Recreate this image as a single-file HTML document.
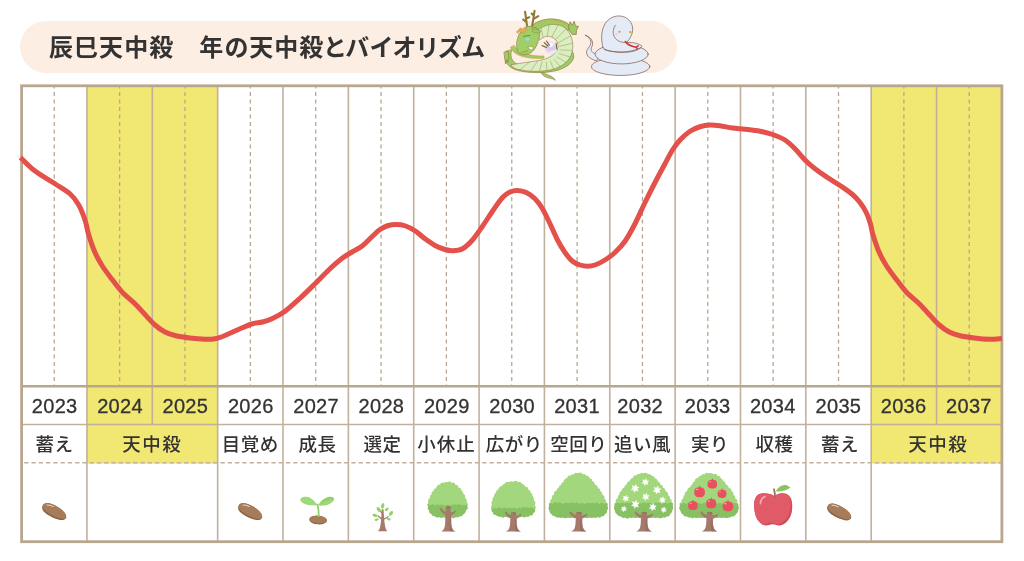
<!DOCTYPE html>
<html lang="ja"><head><meta charset="utf-8"><title>辰巳天中殺 年の天中殺とバイオリズム</title>
<style>html,body{margin:0;padding:0;background:#fff}body{width:1024px;height:561px;overflow:hidden;position:relative}svg{display:block;position:absolute;left:0;top:0}text{font-family:"Liberation Sans","Noto Sans CJK JP",sans-serif;fill:#333333}.ttl{font-size:24px;font-weight:700;letter-spacing:1.06px;font-feature-settings:"palt" 1}.yr{font-size:20px;letter-spacing:.3px;text-anchor:middle;stroke:#333333;stroke-width:.3px}.lb{font-size:18.5px;font-weight:500;letter-spacing:.5px;text-anchor:middle}</style></head><body>
<svg width="1024" height="561" viewBox="0 0 1024 561">
<rect x="20" y="21" width="657" height="52" rx="26" fill="#fdeee4"/>
<rect x="86.95" y="85.80" width="130.71" height="377.90" fill="#f1e773"/>
<rect x="871.19" y="85.80" width="130.71" height="377.90" fill="#f1e773"/>
<line x1="54.28" y1="85.80" x2="54.28" y2="386.30" stroke="#b8a68f" stroke-width="1.3" stroke-dasharray="4 3.5" stroke-dashoffset="1.3"/>
<line x1="119.63" y1="85.80" x2="119.63" y2="386.30" stroke="#b8a68f" stroke-width="1.3" stroke-dasharray="4 3.5" stroke-dashoffset="1.3"/>
<line x1="184.98" y1="85.80" x2="184.98" y2="386.30" stroke="#b8a68f" stroke-width="1.3" stroke-dasharray="4 3.5" stroke-dashoffset="1.3"/>
<line x1="250.34" y1="85.80" x2="250.34" y2="386.30" stroke="#b8a68f" stroke-width="1.3" stroke-dasharray="4 3.5" stroke-dashoffset="1.3"/>
<line x1="315.69" y1="85.80" x2="315.69" y2="386.30" stroke="#b8a68f" stroke-width="1.3" stroke-dasharray="4 3.5" stroke-dashoffset="1.3"/>
<line x1="381.04" y1="85.80" x2="381.04" y2="386.30" stroke="#b8a68f" stroke-width="1.3" stroke-dasharray="4 3.5" stroke-dashoffset="1.3"/>
<line x1="446.39" y1="85.80" x2="446.39" y2="386.30" stroke="#b8a68f" stroke-width="1.3" stroke-dasharray="4 3.5" stroke-dashoffset="1.3"/>
<line x1="511.75" y1="85.80" x2="511.75" y2="386.30" stroke="#b8a68f" stroke-width="1.3" stroke-dasharray="4 3.5" stroke-dashoffset="1.3"/>
<line x1="577.10" y1="85.80" x2="577.10" y2="386.30" stroke="#b8a68f" stroke-width="1.3" stroke-dasharray="4 3.5" stroke-dashoffset="1.3"/>
<line x1="642.45" y1="85.80" x2="642.45" y2="386.30" stroke="#b8a68f" stroke-width="1.3" stroke-dasharray="4 3.5" stroke-dashoffset="1.3"/>
<line x1="707.81" y1="85.80" x2="707.81" y2="386.30" stroke="#b8a68f" stroke-width="1.3" stroke-dasharray="4 3.5" stroke-dashoffset="1.3"/>
<line x1="773.16" y1="85.80" x2="773.16" y2="386.30" stroke="#b8a68f" stroke-width="1.3" stroke-dasharray="4 3.5" stroke-dashoffset="1.3"/>
<line x1="838.51" y1="85.80" x2="838.51" y2="386.30" stroke="#b8a68f" stroke-width="1.3" stroke-dasharray="4 3.5" stroke-dashoffset="1.3"/>
<line x1="903.87" y1="85.80" x2="903.87" y2="386.30" stroke="#b8a68f" stroke-width="1.3" stroke-dasharray="4 3.5" stroke-dashoffset="1.3"/>
<line x1="969.22" y1="85.80" x2="969.22" y2="386.30" stroke="#b8a68f" stroke-width="1.3" stroke-dasharray="4 3.5" stroke-dashoffset="1.3"/>
<line x1="86.95" y1="85.80" x2="86.95" y2="541.70" stroke="#c1b19c" stroke-width="1.6"/>
<line x1="152.31" y1="85.80" x2="152.31" y2="424.45" stroke="#c1b19c" stroke-width="1.6"/>
<line x1="217.66" y1="85.80" x2="217.66" y2="541.70" stroke="#c1b19c" stroke-width="1.6"/>
<line x1="283.01" y1="85.80" x2="283.01" y2="541.70" stroke="#c1b19c" stroke-width="1.6"/>
<line x1="348.37" y1="85.80" x2="348.37" y2="541.70" stroke="#c1b19c" stroke-width="1.6"/>
<line x1="413.72" y1="85.80" x2="413.72" y2="541.70" stroke="#c1b19c" stroke-width="1.6"/>
<line x1="479.07" y1="85.80" x2="479.07" y2="541.70" stroke="#c1b19c" stroke-width="1.6"/>
<line x1="544.42" y1="85.80" x2="544.42" y2="541.70" stroke="#c1b19c" stroke-width="1.6"/>
<line x1="609.78" y1="85.80" x2="609.78" y2="541.70" stroke="#c1b19c" stroke-width="1.6"/>
<line x1="675.13" y1="85.80" x2="675.13" y2="541.70" stroke="#c1b19c" stroke-width="1.6"/>
<line x1="740.48" y1="85.80" x2="740.48" y2="541.70" stroke="#c1b19c" stroke-width="1.6"/>
<line x1="805.84" y1="85.80" x2="805.84" y2="541.70" stroke="#c1b19c" stroke-width="1.6"/>
<line x1="871.19" y1="85.80" x2="871.19" y2="541.70" stroke="#c1b19c" stroke-width="1.6"/>
<line x1="936.54" y1="85.80" x2="936.54" y2="424.45" stroke="#c1b19c" stroke-width="1.6"/>
<line x1="21.60" y1="386.30" x2="1001.89" y2="386.30" stroke="#b8a68f" stroke-width="2.5"/>
<line x1="21.60" y1="424.45" x2="1001.89" y2="424.45" stroke="#c1b19c" stroke-width="1.4"/>
<line x1="21.60" y1="462.85" x2="1001.89" y2="462.85" stroke="#c1b19c" stroke-width="1.5" stroke-dasharray="4.3 2.97" stroke-dashoffset="4.67"/>
<rect x="21.60" y="85.80" width="980.29" height="455.90" fill="none" stroke="#b8a68f" stroke-width="2.8"/>
<path d="M20.50 157.50 C20.75 157.75 19.58 156.75 22.00 159.00 C24.42 161.25 29.50 166.88 35.00 171.00 C40.50 175.12 49.17 179.96 55.00 183.75 C60.83 187.54 66.04 190.21 70.00 193.75 C73.96 197.29 76.25 200.62 78.75 205.00 C81.25 209.38 83.33 215.00 85.00 220.00 C86.67 225.00 87.08 229.58 88.75 235.00 C90.42 240.42 92.71 247.29 95.00 252.50 C97.29 257.71 99.58 261.67 102.50 266.25 C105.42 270.83 109.17 275.62 112.50 280.00 C115.83 284.38 118.75 288.54 122.50 292.50 C126.25 296.46 131.25 300.08 135.00 303.75 C138.75 307.42 141.67 310.96 145.00 314.50 C148.33 318.04 151.67 322.08 155.00 325.00 C158.33 327.92 161.67 330.25 165.00 332.00 C168.33 333.75 170.83 334.50 175.00 335.50 C179.17 336.50 185.00 337.38 190.00 338.00 C195.00 338.62 200.83 339.12 205.00 339.25 C209.17 339.38 211.67 339.38 215.00 338.75 C218.33 338.12 220.83 337.17 225.00 335.50 C229.17 333.83 235.42 330.71 240.00 328.75 C244.58 326.79 248.75 324.88 252.50 323.75 C256.25 322.62 259.17 322.88 262.50 322.00 C265.83 321.12 268.75 320.29 272.50 318.50 C276.25 316.71 280.42 314.62 285.00 311.25 C289.58 307.88 295.00 302.83 300.00 298.25 C305.00 293.67 310.00 288.67 315.00 283.75 C320.00 278.83 325.42 273.04 330.00 268.75 C334.58 264.46 338.75 260.83 342.50 258.00 C346.25 255.17 349.17 253.79 352.50 251.75 C355.83 249.71 359.17 248.33 362.50 245.75 C365.83 243.17 369.58 238.96 372.50 236.25 C375.42 233.54 377.50 231.25 380.00 229.50 C382.50 227.75 384.79 226.58 387.50 225.75 C390.21 224.92 393.33 224.50 396.25 224.50 C399.17 224.50 401.88 224.71 405.00 225.75 C408.12 226.79 411.67 228.58 415.00 230.75 C418.33 232.92 421.67 236.29 425.00 238.75 C428.33 241.21 431.67 243.71 435.00 245.50 C438.33 247.29 442.08 248.62 445.00 249.50 C447.92 250.38 449.58 250.88 452.50 250.75 C455.42 250.62 459.17 250.54 462.50 248.75 C465.83 246.96 469.17 243.75 472.50 240.00 C475.83 236.25 479.17 231.04 482.50 226.25 C485.83 221.46 489.17 216.04 492.50 211.25 C495.83 206.46 499.58 200.71 502.50 197.50 C505.42 194.29 507.50 193.17 510.00 192.00 C512.50 190.83 514.79 190.42 517.50 190.50 C520.21 190.58 523.33 191.12 526.25 192.50 C529.17 193.88 532.29 196.04 535.00 198.75 C537.71 201.46 540.00 204.58 542.50 208.75 C545.00 212.92 547.50 218.54 550.00 223.75 C552.50 228.96 555.00 235.21 557.50 240.00 C560.00 244.79 562.50 248.96 565.00 252.50 C567.50 256.04 570.00 259.17 572.50 261.25 C575.00 263.33 577.50 264.17 580.00 265.00 C582.50 265.83 585.00 266.25 587.50 266.25 C590.00 266.25 592.08 266.04 595.00 265.00 C597.92 263.96 601.67 262.08 605.00 260.00 C608.33 257.92 611.67 255.62 615.00 252.50 C618.33 249.38 621.67 246.04 625.00 241.25 C628.33 236.46 631.67 230.21 635.00 223.75 C638.33 217.29 641.67 209.38 645.00 202.50 C648.33 195.62 651.67 188.96 655.00 182.50 C658.33 176.04 662.08 169.17 665.00 163.75 C667.92 158.33 670.00 153.96 672.50 150.00 C675.00 146.04 677.08 143.12 680.00 140.00 C682.92 136.88 686.67 133.46 690.00 131.25 C693.33 129.04 696.67 127.79 700.00 126.75 C703.33 125.71 706.67 125.17 710.00 125.00 C713.33 124.83 716.25 125.25 720.00 125.75 C723.75 126.25 728.33 127.42 732.50 128.00 C736.67 128.58 740.42 128.71 745.00 129.25 C749.58 129.79 755.42 130.38 760.00 131.25 C764.58 132.12 768.33 133.04 772.50 134.50 C776.67 135.96 781.25 137.62 785.00 140.00 C788.75 142.38 791.67 145.42 795.00 148.75 C798.33 152.08 801.67 156.67 805.00 160.00 C808.33 163.33 811.25 165.83 815.00 168.75 C818.75 171.67 823.33 174.71 827.50 177.50 C831.67 180.29 835.83 182.67 840.00 185.50 C844.17 188.33 849.17 191.67 852.50 194.50 C855.83 197.33 857.71 199.50 860.00 202.50 C862.29 205.50 864.50 208.92 866.25 212.50 C868.00 216.08 869.38 220.25 870.50 224.00 C871.62 227.75 871.54 230.25 873.00 235.00 C874.46 239.75 876.96 247.29 879.25 252.50 C881.54 257.71 883.83 261.67 886.75 266.25 C889.67 270.83 893.42 275.62 896.75 280.00 C900.08 284.38 903.00 288.54 906.75 292.50 C910.50 296.46 915.50 300.08 919.25 303.75 C923.00 307.42 925.92 310.96 929.25 314.50 C932.58 318.04 935.92 322.08 939.25 325.00 C942.58 327.92 945.92 330.25 949.25 332.00 C952.58 333.75 955.08 334.50 959.25 335.50 C963.42 336.50 969.25 337.38 974.25 338.00 C979.25 338.62 984.62 339.17 989.25 339.25 C993.88 339.33 999.88 338.62 1002.00 338.50" fill="none" stroke="#e4504a" stroke-width="5" stroke-linecap="butt" stroke-linejoin="round"/>
<text class="ttl" x="49" y="55.5">辰巳天中殺　年の天中殺とバイオリズム</text>
<text class="yr" x="54.68" y="412.8">2023</text>
<text class="yr" x="120.03" y="412.8">2024</text>
<text class="yr" x="185.38" y="412.8">2025</text>
<text class="yr" x="250.74" y="412.8">2026</text>
<text class="yr" x="316.09" y="412.8">2027</text>
<text class="yr" x="381.44" y="412.8">2028</text>
<text class="yr" x="446.79" y="412.8">2029</text>
<text class="yr" x="512.15" y="412.8">2030</text>
<text class="yr" x="577.00" y="412.8">2031</text>
<text class="yr" x="640.15" y="412.8">2032</text>
<text class="yr" x="707.71" y="412.8">2033</text>
<text class="yr" x="772.76" y="412.8">2034</text>
<text class="yr" x="838.41" y="412.8">2035</text>
<text class="yr" x="903.57" y="412.8">2036</text>
<text class="yr" x="968.92" y="412.8">2037</text>
<text class="lb" x="54.58" y="451">蓄え</text>
<text class="lb" x="250.34" y="451">目覚め</text>
<text class="lb" x="317.44" y="451">成長</text>
<text class="lb" x="382.44" y="451">選定</text>
<text class="lb" x="446.39" y="451" style="letter-spacing:1px">小休止</text>
<text class="lb" x="514.25" y="451">広がり</text>
<text class="lb" x="578.70" y="451">空回り</text>
<text class="lb" x="642.45" y="451">追い風</text>
<text class="lb" x="710.01" y="451">実り</text>
<text class="lb" x="774.41" y="451">収穫</text>
<text class="lb" x="840.01" y="451">蓄え</text>
<text class="lb" x="152.31" y="451" style="letter-spacing:1.5px">天中殺</text>
<text class="lb" x="938.14" y="451" style="letter-spacing:1.5px">天中殺</text>
<g transform="translate(500,8) scale(0.13193)" stroke-linejoin="round" stroke-linecap="round">
<path d="M318 462 C330 520 385 490 420 548 C395 530 365 535 340 520 C315 505 305 485 318 462Z" fill="#9ecb63" stroke="#8a6a35" stroke-width="4"/>
<path d="M42 330 C25 400 55 450 130 472 C220 498 390 498 475 458 C545 425 580 375 548 330 L515 350 C525 390 480 420 400 440 C300 460 180 450 120 420 C82 395 78 360 88 318 Z" fill="#9ecb63" stroke="#8a6a35" stroke-width="4"/>
<path d="M80 300 C95 355 200 392 332 380 L334 364 C240 370 135 338 108 285Z" fill="#9ecb63" stroke="#c9a24a" stroke-width="5"/>
<path d="M248 130 C300 78 425 62 505 112 C525 125 535 142 540 158 L505 175 C470 125 380 112 288 168 Z" fill="#9ecb63" stroke="#8a6a35" stroke-width="4"/>
<path d="M262 118 C320 80 425 76 505 122" fill="none" stroke="#c9a24a" stroke-width="6"/>
<clipPath id="dbc"><path d="M286 168 C330 128 425 102 492 150 C540 190 558 258 550 315 C542 386 492 434 412 462 C340 484 220 488 130 464 C105 456 92 446 84 430 C150 420 225 408 295 398 C365 386 422 355 438 305 C447 265 425 228 378 216 C348 210 322 222 302 242 Z"/></clipPath>
<path d="M286 168 C330 128 425 102 492 150 C540 190 558 258 550 315 C542 386 492 434 412 462 C340 484 220 488 130 464 C105 456 92 446 84 430 C150 420 225 408 295 398 C365 386 422 355 438 305 C447 265 425 228 378 216 C348 210 322 222 302 242 Z" fill="#d9efbf" stroke="#8a6a35" stroke-width="4"/>
<path d="M326 221 L293 59 M358 221 L381 57 M389 228 L467 77 M417 243 L541 119 M438 265 L599 177 M451 290 L634 248 M454 318 L644 324 M448 346 L628 400 M433 371 L587 468 M411 391 L525 523 M382 404 L447 559 M351 410 L361 575 M319 407 L273 567 M289 396 L191 538 M264 379 L123 489 M246 355 L74 425 M237 328 L49 351" stroke="#8a6a35" stroke-width="3.4" fill="none" clip-path="url(#dbc)" opacity=".8"/>
<path d="M32 335 L62 328 L68 380 L60 412 L52 392 L42 425 L36 385 Z" fill="#9ecb63" stroke="#8a6a35" stroke-width="4"/>
<path d="M520 135 L532 105 L548 130 L562 100 L572 135 L596 140 L580 168 L578 200 L548 200 L528 175Z" fill="#9ecb63" stroke="#8a6a35" stroke-width="5"/>
<circle cx="385" cy="300" r="52" fill="#ebe8f6"/>
<circle cx="372" cy="308" r="22" fill="#f3bfdc" opacity=".85"/>
<circle cx="402" cy="300" r="22" fill="#c6c9f0" opacity=".85"/>
<circle cx="385" cy="282" r="16" fill="#fff" opacity=".9"/>
<path d="M318 285 L352 300 M335 262 L365 290 M352 250 L375 282 M425 268 L432 312" stroke="#6d5a2a" stroke-width="8" fill="none"/>
<path d="M205 135 L190 28 M196 80 L222 70 M200 105 L176 88 M245 130 L262 22 M252 85 L290 62 M256 60 L240 42" stroke="#8f7a32" stroke-width="16" fill="none"/>
<path d="M240 138 C205 130 155 170 138 215 C122 258 120 305 140 338 C155 360 190 356 222 345 C258 330 280 290 292 240 C300 208 306 185 296 170 C282 150 262 146 240 138Z" fill="#a2ce66" stroke="#8a6a35" stroke-width="4"/>
<path d="M125 180 L155 150 L172 160 L190 142 L205 165 L175 190 L150 180 L135 192Z" fill="#e4ad55" stroke="#b98a3a" stroke-width="3"/>
<path d="M245 150 C265 162 300 165 312 176 C295 195 262 192 250 180Z" fill="#9bc95f" stroke="#8a6a35" stroke-width="3"/>
<ellipse cx="208" cy="236" rx="14" ry="12" fill="#7fe6ee"/>
<path d="M178 215 L228 208" stroke="#8a6a35" stroke-width="6"/>
<path d="M215 292 L255 298 L242 318 L220 310Z" fill="#fff" stroke="#8a6a35" stroke-width="3"/>
<path d="M158 340 C180 328 200 335 212 322" stroke="#8a6a35" stroke-width="4" fill="none"/>
</g>
<g transform="translate(570,5) scale(0.14265)" stroke="#7d5a48" stroke-width="5" stroke-linejoin="round" stroke-linecap="round" fill="#e4ebf7">
<path d="M108 212 C150 235 158 268 130 300 C100 335 118 372 185 392 L215 350 C165 345 140 325 150 300 C172 262 150 225 108 212Z"/>
<ellipse cx="355" cy="432" rx="205" ry="62"/>
<ellipse cx="362" cy="345" rx="186" ry="68"/>
<path d="M232 300 C215 240 215 160 262 110 C310 62 390 66 425 120 C452 162 440 215 398 262 C440 262 485 268 505 290 C480 325 400 338 330 330 C280 324 245 318 232 300Z"/>
<path d="M318 142 C292 180 298 228 340 252 C360 262 380 264 398 262" fill="none"/>
<path d="M240 312 C290 335 420 340 495 300" fill="none"/>
<path d="M388 256 C402 280 430 290 462 296 L478 286 M462 296 L470 304" fill="none" stroke="#cf3535" stroke-width="11"/>
<circle cx="347" cy="188" r="8" fill="#c9aa1e" stroke="none"/><circle cx="423" cy="190" r="8" fill="#c9aa1e" stroke="none"/>
<circle cx="325" cy="204" r="8" fill="#f7c6cc" stroke="none"/>
</g>
<g transform="translate(54.38,511.70) rotate(24) scale(1,0.9)">
<clipPath id="sca"><path d="M-13.2 -0.4 C-13.4 -5.8 -7.5 -7.2 -1.5 -6.8 C6.5 -6.2 13.4 -3 13.2 1.4 C13 5.2 7 6.8 0 6.6 C-7.5 6.4 -13 4.4 -13.2 -0.4Z"/></clipPath>
<g clip-path="url(#sca)"><rect x="-15" y="-9" width="30" height="18" fill="#8d6647"/>
<path d="M-13.2 -1.6 C-13.2 -6.6 -7 -8 -1 -7.6 C7 -7 13.4 -3.6 13.2 0.2 C13 4 6 5.2 -1 4.6 C-8 4 -13.2 2.6 -13.2 -1.6Z" fill="#a67c5a"/>
</g>
<path d="M-9.6 -3.4 C-7.6 -4.8 -5 -5 -3 -4.7" fill="none" stroke="#e9d8c8" stroke-width="1" stroke-linecap="round"/>
</g>
<g transform="translate(250.34,511.80) rotate(24) scale(1,0.9)">
<clipPath id="scb"><path d="M-13.2 -0.4 C-13.4 -5.8 -7.5 -7.2 -1.5 -6.8 C6.5 -6.2 13.4 -3 13.2 1.4 C13 5.2 7 6.8 0 6.6 C-7.5 6.4 -13 4.4 -13.2 -0.4Z"/></clipPath>
<g clip-path="url(#scb)"><rect x="-15" y="-9" width="30" height="18" fill="#8d6647"/>
<path d="M-13.2 -1.6 C-13.2 -6.6 -7 -8 -1 -7.6 C7 -7 13.4 -3.6 13.2 0.2 C13 4 6 5.2 -1 4.6 C-8 4 -13.2 2.6 -13.2 -1.6Z" fill="#a67c5a"/>
</g>
<path d="M-9.6 -3.4 C-7.6 -4.8 -5 -5 -3 -4.7" fill="none" stroke="#e9d8c8" stroke-width="1" stroke-linecap="round"/>
</g>
<g transform="translate(839.31,512.10) rotate(24) scale(1,0.9)">
<clipPath id="scc"><path d="M-13.2 -0.4 C-13.4 -5.8 -7.5 -7.2 -1.5 -6.8 C6.5 -6.2 13.4 -3 13.2 1.4 C13 5.2 7 6.8 0 6.6 C-7.5 6.4 -13 4.4 -13.2 -0.4Z"/></clipPath>
<g clip-path="url(#scc)"><rect x="-15" y="-9" width="30" height="18" fill="#8d6647"/>
<path d="M-13.2 -1.6 C-13.2 -6.6 -7 -8 -1 -7.6 C7 -7 13.4 -3.6 13.2 0.2 C13 4 6 5.2 -1 4.6 C-8 4 -13.2 2.6 -13.2 -1.6Z" fill="#a67c5a"/>
</g>
<path d="M-9.6 -3.4 C-7.6 -4.8 -5 -5 -3 -4.7" fill="none" stroke="#e9d8c8" stroke-width="1" stroke-linecap="round"/>
</g>
<g transform="translate(230.00,490) scale(0.11723)">
<ellipse cx="752" cy="256" rx="76" ry="37" fill="#8d6647" transform="rotate(4 752 256)"/>
<ellipse cx="751" cy="251" rx="74" ry="32" fill="#a67c5a" transform="rotate(4 752 256)"/>
<path d="M747 122 C752 150 758 185 757 222" fill="none" stroke="#8fd168" stroke-width="15" stroke-linecap="round"/>
<path d="M747 131 C722 95 690 58 650 57 C620 56 597 68 600 85 C603 106 640 128 700 131 C720 132 737 132 747 131Z" fill="#9ed977"/>
<path d="M752 129 C772 95 810 60 850 57 C876 55 892 64 888 78 C881 101 842 128 800 131 C780 132 764 132 752 129Z" fill="#93d06b"/>
<path d="M752 129 C790 110 840 80 888 72 C885 100 842 128 800 131 C780 132 764 132 752 129Z" fill="#9ed977"/>
</g>
<g>
<path d="M377.70 531.30 C380.50 530.10 381.10 523.30 381.70 509.30 L383.50 509.30 C384.30 523.30 385.10 530.10 387.70 531.30 Z" fill="#a67a6b"/>
<path d="M381.90 519.30 L378.10 516.10 M383.70 519.30 L388.10 516.70 M382.30 513.30 L379.90 510.30" stroke="#a67a6b" stroke-width="1.3" stroke-linecap="round" fill="none"/>
<ellipse cx="382.73" cy="505.78" rx="2.80" ry="1.60" fill="#8fd468" transform="rotate(-80 382.73 505.78)"/>
<ellipse cx="378.72" cy="509.52" rx="2.80" ry="1.60" fill="#8fd468" transform="rotate(55 378.72 509.52)"/>
<ellipse cx="386.74" cy="509.39" rx="2.10" ry="1.30" fill="#8fd468" transform="rotate(-40 386.74 509.39)"/>
<ellipse cx="391.02" cy="513.40" rx="2.70" ry="1.60" fill="#8fd468" transform="rotate(-50 391.02 513.40)"/>
<ellipse cx="374.97" cy="515.40" rx="2.60" ry="1.50" fill="#8fd468" transform="rotate(15 374.97 515.40)"/>
<ellipse cx="376.71" cy="519.55" rx="2.10" ry="1.20" fill="#8fd468" transform="rotate(-20 376.71 519.55)"/>
<ellipse cx="388.74" cy="519.14" rx="2.10" ry="1.20" fill="#8fd468" transform="rotate(20 388.74 519.14)"/>
</g>
<g>
<clipPath id="tc1"><path d="M447.16 482.31 Q449.76 480.60 451.83 482.93 Q454.57 481.78 455.31 484.66 Q458.38 484.79 458.63 487.85 Q461.76 487.87 461.49 490.99 Q463.73 491.53 463.19 493.78 Q466.01 494.72 464.95 497.50 Q467.45 499.61 466.76 502.80 Q469.17 504.26 466.96 506.02 Q468.73 508.51 466.12 510.09 Q465.61 513.02 463.06 514.52 Q462.22 516.45 460.15 516.09 Q458.07 517.92 455.46 517.00 Q453.66 519.36 451.85 517.00 Q449.61 518.68 447.37 517.00 Q445.67 518.92 443.98 517.00 Q441.46 518.51 438.95 517.00 Q436.31 518.17 434.52 515.90 Q432.13 516.31 431.45 513.98 Q428.93 512.88 429.10 510.13 Q426.85 508.52 428.26 506.13 Q426.47 504.46 428.41 502.96 Q427.10 499.69 430.10 497.86 Q429.11 495.24 431.74 494.29 Q430.71 491.51 433.64 491.09 Q433.23 488.21 436.13 488.28 Q436.52 484.62 440.20 484.42 Q440.96 481.88 443.40 482.92 Q445.07 481.30 447.16 482.31Z"/></clipPath>
<path d="M447.16 482.31 Q449.76 480.60 451.83 482.93 Q454.57 481.78 455.31 484.66 Q458.38 484.79 458.63 487.85 Q461.76 487.87 461.49 490.99 Q463.73 491.53 463.19 493.78 Q466.01 494.72 464.95 497.50 Q467.45 499.61 466.76 502.80 Q469.17 504.26 466.96 506.02 Q468.73 508.51 466.12 510.09 Q465.61 513.02 463.06 514.52 Q462.22 516.45 460.15 516.09 Q458.07 517.92 455.46 517.00 Q453.66 519.36 451.85 517.00 Q449.61 518.68 447.37 517.00 Q445.67 518.92 443.98 517.00 Q441.46 518.51 438.95 517.00 Q436.31 518.17 434.52 515.90 Q432.13 516.31 431.45 513.98 Q428.93 512.88 429.10 510.13 Q426.85 508.52 428.26 506.13 Q426.47 504.46 428.41 502.96 Q427.10 499.69 430.10 497.86 Q429.11 495.24 431.74 494.29 Q430.71 491.51 433.64 491.09 Q433.23 488.21 436.13 488.28 Q436.52 484.62 440.20 484.42 Q440.96 481.88 443.40 482.92 Q445.07 481.30 447.16 482.31Z" fill="#a3d77d"/>
<path d="M425.20 520.00 L425.20 505.30 Q427.81 503.21 430.41 505.41 Q432.47 502.60 434.53 505.75 Q437.26 503.64 439.99 505.33 Q442.23 503.50 444.48 505.93 Q447.72 503.83 450.97 505.80 Q453.62 503.29 456.28 505.00 Q459.04 503.17 461.80 505.56 Q464.54 503.69 467.29 505.67 Q470.51 502.35 473.73 505.46 L473.73 520.00 Z" fill="#87c163" clip-path="url(#tc1)"/>
<path d="M440.45 531.50 C443.80 530.90 444.90 527.50 445.20 522.50 L445.30 514.80 C443.20 514.40 440.60 511.20 439.60 508.60 L441.00 507.50 C442.40 509.80 444.60 511.60 445.70 511.80 L445.80 506.80 L447.40 506.20 L450.40 506.60 L450.80 512.20 C452.80 512.20 454.00 511.70 455.20 510.40 L456.20 511.60 C455.00 513.50 452.40 514.60 451.20 515.60 L451.20 522.50 C451.50 527.50 452.60 530.90 455.95 531.50 Z" fill="#a67a6b"/>
<path d="M451.20 515.60 L451.20 522.50 C451.50 527.50 452.60 530.90 455.95 531.50 L450.40 531.50 C449.20 529.50 449.40 523.50 449.80 516.20 Z" fill="#8f6456" opacity=".5"/>
<path d="M445.80 506.80 L447.40 506.20 L450.40 506.60 L450.60 508.60 Z" fill="#8f6456" opacity=".55"/>

</g>
<g>
<clipPath id="tc2"><path d="M513.51 481.70 Q515.99 479.59 517.93 482.21 Q520.78 480.96 521.93 483.85 Q524.60 484.20 525.33 486.80 Q528.36 486.43 528.17 489.48 Q530.98 490.24 530.87 493.15 Q533.27 493.46 532.12 495.58 Q534.28 497.44 533.84 500.26 Q536.57 502.36 534.71 505.25 Q536.76 507.08 534.81 509.00 Q536.07 512.05 532.99 513.23 Q533.24 515.91 530.71 515.01 Q528.91 517.23 526.12 516.60 Q524.18 518.18 522.24 516.60 Q519.86 517.93 517.48 516.60 Q515.33 517.91 513.17 516.60 Q511.52 517.80 509.87 516.60 Q507.57 518.11 505.27 516.60 Q503.09 518.49 500.91 516.60 Q498.04 516.87 495.85 514.99 Q493.05 515.13 492.92 512.33 Q490.92 511.36 491.83 509.33 Q490.42 506.61 492.03 504.00 Q490.18 502.07 492.59 500.92 Q491.77 497.96 494.23 496.13 Q493.64 493.92 495.77 493.07 Q495.54 490.42 498.12 489.80 Q498.80 486.36 502.27 485.84 Q502.72 483.92 504.68 483.84 Q505.73 480.85 508.60 482.22 Q510.93 480.82 513.51 481.70Z"/></clipPath>
<path d="M513.51 481.70 Q515.99 479.59 517.93 482.21 Q520.78 480.96 521.93 483.85 Q524.60 484.20 525.33 486.80 Q528.36 486.43 528.17 489.48 Q530.98 490.24 530.87 493.15 Q533.27 493.46 532.12 495.58 Q534.28 497.44 533.84 500.26 Q536.57 502.36 534.71 505.25 Q536.76 507.08 534.81 509.00 Q536.07 512.05 532.99 513.23 Q533.24 515.91 530.71 515.01 Q528.91 517.23 526.12 516.60 Q524.18 518.18 522.24 516.60 Q519.86 517.93 517.48 516.60 Q515.33 517.91 513.17 516.60 Q511.52 517.80 509.87 516.60 Q507.57 518.11 505.27 516.60 Q503.09 518.49 500.91 516.60 Q498.04 516.87 495.85 514.99 Q493.05 515.13 492.92 512.33 Q490.92 511.36 491.83 509.33 Q490.42 506.61 492.03 504.00 Q490.18 502.07 492.59 500.92 Q491.77 497.96 494.23 496.13 Q493.64 493.92 495.77 493.07 Q495.54 490.42 498.12 489.80 Q498.80 486.36 502.27 485.84 Q502.72 483.92 504.68 483.84 Q505.73 480.85 508.60 482.22 Q510.93 480.82 513.51 481.70Z" fill="#a3d77d"/>
<path d="M488.80 519.60 L488.80 508.60 Q491.26 506.15 493.72 508.83 Q495.69 507.18 497.65 508.42 Q499.81 505.90 501.97 508.87 Q504.63 506.31 507.28 508.83 Q509.25 506.50 511.21 508.13 Q514.32 507.11 517.43 509.05 Q519.29 506.10 521.16 508.37 Q523.51 505.85 525.87 507.93 Q527.71 505.74 529.55 508.61 Q531.44 505.62 533.32 509.23 Q535.24 506.52 537.16 508.09 Q539.38 506.21 541.60 508.13 L541.60 519.60 Z" fill="#87c163" clip-path="url(#tc2)"/>
<path d="M505.40 531.50 C508.80 530.90 509.90 527.50 510.20 522.50 L510.30 518.20 C508.20 517.80 505.80 515.00 504.80 512.40 L506.20 511.30 C507.60 513.60 509.60 515.00 510.70 515.20 L510.80 512.80 L512.60 512.20 L515.80 512.60 L516.20 515.60 C518.20 515.60 519.20 515.10 520.40 513.80 L521.40 515.00 C520.20 516.90 517.80 518.00 516.60 519.00 L516.60 522.50 C516.90 527.50 518.00 530.90 521.40 531.50 Z" fill="#a67a6b"/>
<path d="M516.60 519.00 L516.60 522.50 C516.90 527.50 518.00 530.90 521.40 531.50 L515.60 531.50 C514.40 529.50 514.60 523.50 515.00 519.60 Z" fill="#8f6456" opacity=".5"/>
<path d="M510.80 512.80 L512.60 512.20 L515.80 512.60 L516.00 514.60 Z" fill="#8f6456" opacity=".55"/>

</g>
<g>
<clipPath id="tc3"><path d="M577.74 473.31 Q580.83 471.53 583.05 474.33 Q585.07 473.16 585.63 475.42 Q588.92 475.27 589.81 478.44 Q592.53 478.08 591.96 480.76 Q594.52 481.56 594.79 484.23 Q597.75 485.33 598.28 488.45 Q600.93 488.21 600.04 490.72 Q602.42 492.16 602.59 494.94 Q605.32 495.79 604.27 498.46 Q606.31 499.81 606.10 502.24 Q608.59 503.76 607.21 506.34 Q609.09 508.33 606.94 510.02 Q607.72 513.41 604.43 514.53 Q604.23 517.17 601.86 515.98 Q600.17 518.25 597.56 517.11 Q595.68 518.53 593.73 517.20 Q591.42 518.51 589.11 517.20 Q586.89 519.00 584.67 517.20 Q582.15 518.97 579.63 517.20 Q577.96 518.41 576.30 517.20 Q574.42 519.48 572.54 517.20 Q570.32 518.97 568.09 517.20 Q565.37 519.22 562.65 517.20 Q561.33 518.60 560.01 517.20 Q557.20 518.07 555.00 516.13 Q552.80 516.21 551.70 514.30 Q549.24 513.02 549.51 510.26 Q547.89 508.57 549.18 506.62 Q548.18 503.89 550.40 502.01 Q549.81 499.57 552.10 498.52 Q551.10 495.56 554.04 494.51 Q553.33 491.35 556.47 490.57 Q556.55 488.30 558.74 487.69 Q558.60 485.32 560.96 485.03 Q561.21 482.61 563.53 481.86 Q564.02 478.44 567.40 477.70 Q567.43 474.78 570.19 475.71 Q571.35 473.71 573.60 474.24 Q575.21 471.73 577.74 473.31Z"/></clipPath>
<path d="M577.74 473.31 Q580.83 471.53 583.05 474.33 Q585.07 473.16 585.63 475.42 Q588.92 475.27 589.81 478.44 Q592.53 478.08 591.96 480.76 Q594.52 481.56 594.79 484.23 Q597.75 485.33 598.28 488.45 Q600.93 488.21 600.04 490.72 Q602.42 492.16 602.59 494.94 Q605.32 495.79 604.27 498.46 Q606.31 499.81 606.10 502.24 Q608.59 503.76 607.21 506.34 Q609.09 508.33 606.94 510.02 Q607.72 513.41 604.43 514.53 Q604.23 517.17 601.86 515.98 Q600.17 518.25 597.56 517.11 Q595.68 518.53 593.73 517.20 Q591.42 518.51 589.11 517.20 Q586.89 519.00 584.67 517.20 Q582.15 518.97 579.63 517.20 Q577.96 518.41 576.30 517.20 Q574.42 519.48 572.54 517.20 Q570.32 518.97 568.09 517.20 Q565.37 519.22 562.65 517.20 Q561.33 518.60 560.01 517.20 Q557.20 518.07 555.00 516.13 Q552.80 516.21 551.70 514.30 Q549.24 513.02 549.51 510.26 Q547.89 508.57 549.18 506.62 Q548.18 503.89 550.40 502.01 Q549.81 499.57 552.10 498.52 Q551.10 495.56 554.04 494.51 Q553.33 491.35 556.47 490.57 Q556.55 488.30 558.74 487.69 Q558.60 485.32 560.96 485.03 Q561.21 482.61 563.53 481.86 Q564.02 478.44 567.40 477.70 Q567.43 474.78 570.19 475.71 Q571.35 473.71 573.60 474.24 Q575.21 471.73 577.74 473.31Z" fill="#a3d77d"/>
<path d="M546.30 520.20 L546.30 503.60 Q549.50 502.18 552.70 503.93 Q554.68 500.62 556.67 502.92 Q559.74 501.11 562.81 504.10 Q566.06 501.82 569.31 503.37 Q572.12 501.75 574.93 503.27 Q577.03 500.83 579.12 504.12 Q582.06 501.84 585.01 504.19 Q587.53 501.83 590.05 503.54 Q592.42 502.07 594.80 503.69 Q597.09 501.29 599.38 504.20 Q602.10 501.55 604.82 504.11 Q608.06 501.42 611.31 504.22 L611.31 520.20 Z" fill="#87c163" clip-path="url(#tc3)"/>
<path d="M570.50 531.50 C574.20 530.90 575.30 527.50 575.60 522.50 L575.70 518.00 C573.60 517.60 570.30 515.00 569.30 512.40 L570.70 511.30 C572.10 513.60 575.00 514.80 576.10 515.00 L576.20 512.40 L578.10 511.80 L581.40 512.20 L581.80 515.40 C583.80 515.40 585.40 514.80 586.60 513.50 L587.60 514.70 C586.40 516.60 583.40 517.80 582.20 518.80 L582.20 522.50 C582.50 527.50 583.60 530.90 587.30 531.50 Z" fill="#a67a6b"/>
<path d="M582.20 518.80 L582.20 522.50 C582.50 527.50 583.60 530.90 587.30 531.50 L581.10 531.50 C579.90 529.50 580.10 523.50 580.50 519.40 Z" fill="#8f6456" opacity=".5"/>
<path d="M576.20 512.40 L578.10 511.80 L581.40 512.20 L581.60 514.20 Z" fill="#8f6456" opacity=".55"/>

</g>
<g>
<clipPath id="tc4"><path d="M643.52 473.30 Q646.04 471.71 647.81 474.10 Q650.63 473.69 652.21 476.06 Q654.43 476.00 654.92 478.16 Q657.46 478.73 657.81 481.31 Q660.12 482.23 660.55 484.68 Q663.29 484.69 662.81 487.39 Q665.56 488.26 665.73 491.14 Q668.75 491.91 667.98 494.92 Q670.40 496.25 669.92 498.96 Q672.69 499.29 671.25 501.69 Q674.02 503.20 672.58 506.02 Q673.60 508.00 672.37 509.85 Q672.34 512.84 669.86 514.50 Q669.10 517.44 666.30 516.28 Q665.20 518.32 663.28 517.03 Q660.46 519.49 657.51 517.20 Q655.42 518.83 653.33 517.20 Q651.49 518.41 649.65 517.20 Q647.58 519.13 645.51 517.20 Q643.79 519.32 642.07 517.20 Q640.09 518.67 638.11 517.20 Q635.57 518.43 633.04 517.20 Q631.33 518.75 629.62 517.20 Q627.40 519.55 625.19 517.20 Q622.66 518.80 621.01 516.31 Q618.74 516.64 617.56 514.67 Q615.06 513.39 614.99 510.58 Q613.55 508.64 614.58 506.45 Q614.09 503.79 615.91 501.78 Q614.79 499.20 617.51 498.49 Q617.26 495.92 619.43 494.52 Q618.88 491.87 621.48 491.12 Q621.52 488.31 624.23 487.59 Q624.41 485.23 626.70 484.62 Q626.33 481.81 629.16 481.58 Q630.07 478.73 632.86 477.64 Q633.54 474.87 636.36 475.33 Q637.73 473.43 640.03 473.90 Q641.49 471.97 643.52 473.30Z"/></clipPath>
<path d="M643.52 473.30 Q646.04 471.71 647.81 474.10 Q650.63 473.69 652.21 476.06 Q654.43 476.00 654.92 478.16 Q657.46 478.73 657.81 481.31 Q660.12 482.23 660.55 484.68 Q663.29 484.69 662.81 487.39 Q665.56 488.26 665.73 491.14 Q668.75 491.91 667.98 494.92 Q670.40 496.25 669.92 498.96 Q672.69 499.29 671.25 501.69 Q674.02 503.20 672.58 506.02 Q673.60 508.00 672.37 509.85 Q672.34 512.84 669.86 514.50 Q669.10 517.44 666.30 516.28 Q665.20 518.32 663.28 517.03 Q660.46 519.49 657.51 517.20 Q655.42 518.83 653.33 517.20 Q651.49 518.41 649.65 517.20 Q647.58 519.13 645.51 517.20 Q643.79 519.32 642.07 517.20 Q640.09 518.67 638.11 517.20 Q635.57 518.43 633.04 517.20 Q631.33 518.75 629.62 517.20 Q627.40 519.55 625.19 517.20 Q622.66 518.80 621.01 516.31 Q618.74 516.64 617.56 514.67 Q615.06 513.39 614.99 510.58 Q613.55 508.64 614.58 506.45 Q614.09 503.79 615.91 501.78 Q614.79 499.20 617.51 498.49 Q617.26 495.92 619.43 494.52 Q618.88 491.87 621.48 491.12 Q621.52 488.31 624.23 487.59 Q624.41 485.23 626.70 484.62 Q626.33 481.81 629.16 481.58 Q630.07 478.73 632.86 477.64 Q633.54 474.87 636.36 475.33 Q637.73 473.43 640.03 473.90 Q641.49 471.97 643.52 473.30Z" fill="#a3d77d"/>
<path d="M611.70 520.20 L611.70 503.80 Q613.72 501.34 615.74 503.57 Q617.79 501.62 619.84 503.79 Q622.31 501.67 624.78 503.47 Q626.91 501.29 629.04 503.55 Q631.80 501.14 634.56 504.31 Q637.73 502.02 640.89 503.43 Q643.75 501.48 646.60 503.38 Q649.37 501.00 652.13 504.27 Q654.21 501.92 656.28 503.11 Q659.49 502.05 662.71 504.12 Q665.26 501.45 667.82 503.84 Q670.81 501.44 673.80 503.52 Q675.72 501.64 677.64 504.39 L677.64 520.20 Z" fill="#87c163" clip-path="url(#tc4)"/>
<path d="M635.60 531.50 C639.40 530.90 640.50 527.50 640.80 522.50 L640.90 518.00 C638.80 517.60 635.50 515.00 634.50 512.40 L635.90 511.30 C637.30 513.60 640.20 514.80 641.30 515.00 L641.40 512.40 L643.30 511.80 L646.60 512.20 L647.00 515.40 C649.00 515.40 650.90 514.80 652.10 513.50 L653.10 514.70 C651.90 516.60 648.60 517.80 647.40 518.80 L647.40 522.50 C647.70 527.50 648.80 530.90 652.60 531.50 Z" fill="#a67a6b"/>
<path d="M647.40 518.80 L647.40 522.50 C647.70 527.50 648.80 530.90 652.60 531.50 L646.30 531.50 C645.10 529.50 645.30 523.50 645.70 519.40 Z" fill="#8f6456" opacity=".5"/>
<path d="M641.40 512.40 L643.30 511.80 L646.60 512.20 L646.80 514.20 Z" fill="#8f6456" opacity=".55"/>
<path d="M646.08 478.77 L646.48 480.88 L648.62 481.02 L647.00 482.42 L647.95 484.35 L645.92 483.65 L644.72 485.43 L644.32 483.32 L642.18 483.18 L643.80 481.78 L642.85 479.85 L644.88 480.55 Z" fill="#fff" stroke="#fff" stroke-width=".6" stroke-linejoin="round"/><path d="M635.89 484.48 L636.37 486.96 L638.89 487.13 L636.98 488.78 L638.10 491.05 L635.71 490.22 L634.31 492.32 L633.83 489.84 L631.31 489.67 L633.22 488.02 L632.10 485.75 L634.49 486.58 Z" fill="#fff" stroke="#fff" stroke-width=".6" stroke-linejoin="round"/><path d="M657.89 486.18 L658.37 488.66 L660.89 488.83 L658.98 490.48 L660.10 492.75 L657.71 491.92 L656.31 494.02 L655.83 491.54 L653.31 491.37 L655.22 489.72 L654.10 487.45 L656.49 488.28 Z" fill="#fff" stroke="#fff" stroke-width=".6" stroke-linejoin="round"/><path d="M626.44 495.26 L626.82 497.25 L628.83 497.38 L627.31 498.71 L628.20 500.52 L626.29 499.86 L625.16 501.54 L624.78 499.55 L622.77 499.42 L624.29 498.09 L623.40 496.28 L625.31 496.94 Z" fill="#fff" stroke="#fff" stroke-width=".6" stroke-linejoin="round"/><path d="M646.52 493.27 L646.94 495.50 L649.21 495.66 L647.49 497.14 L648.50 499.18 L646.35 498.44 L645.08 500.33 L644.66 498.10 L642.39 497.94 L644.11 496.46 L643.10 494.42 L645.25 495.16 Z" fill="#fff" stroke="#fff" stroke-width=".6" stroke-linejoin="round"/><path d="M663.04 496.86 L663.42 498.85 L665.43 498.98 L663.91 500.31 L664.80 502.12 L662.89 501.46 L661.76 503.14 L661.38 501.15 L659.37 501.02 L660.89 499.69 L660.00 497.88 L661.91 498.54 Z" fill="#fff" stroke="#fff" stroke-width=".6" stroke-linejoin="round"/><path d="M636.19 500.48 L636.67 502.96 L639.19 503.13 L637.28 504.78 L638.40 507.05 L636.01 506.22 L634.61 508.32 L634.13 505.84 L631.61 505.67 L633.52 504.02 L632.40 501.75 L634.79 502.58 Z" fill="#fff" stroke="#fff" stroke-width=".6" stroke-linejoin="round"/><path d="M653.52 503.57 L653.94 505.80 L656.21 505.96 L654.49 507.44 L655.50 509.48 L653.35 508.74 L652.08 510.63 L651.66 508.40 L649.39 508.24 L651.11 506.76 L650.10 504.72 L652.25 505.46 Z" fill="#fff" stroke="#fff" stroke-width=".6" stroke-linejoin="round"/><path d="M624.36 506.16 L624.69 507.89 L626.45 508.01 L625.12 509.17 L625.90 510.75 L624.23 510.17 L623.24 511.64 L622.91 509.91 L621.15 509.79 L622.48 508.63 L621.70 507.05 L623.37 507.63 Z" fill="#fff" stroke="#fff" stroke-width=".6" stroke-linejoin="round"/><path d="M664.26 507.06 L664.59 508.79 L666.35 508.91 L665.02 510.07 L665.80 511.65 L664.13 511.07 L663.14 512.54 L662.81 510.81 L661.05 510.69 L662.38 509.53 L661.60 507.95 L663.27 508.53 Z" fill="#fff" stroke="#fff" stroke-width=".6" stroke-linejoin="round"/>
</g>
<g>
<clipPath id="tc5"><path d="M708.54 473.33 Q711.30 472.53 713.64 474.18 Q716.42 472.95 717.41 475.83 Q720.35 475.87 721.09 478.72 Q723.14 478.94 723.16 481.00 Q725.80 481.55 725.80 484.24 Q728.47 485.28 729.00 488.10 Q731.94 488.42 731.47 491.34 Q733.91 491.98 733.33 494.43 Q735.51 496.07 735.44 498.80 Q738.20 499.53 737.06 502.15 Q738.84 504.18 738.23 506.82 Q739.57 508.48 737.96 509.90 Q738.12 512.34 736.18 513.84 Q734.86 516.92 731.56 516.37 Q730.27 518.00 728.36 517.17 Q726.36 518.98 724.33 517.20 Q721.77 518.44 719.20 517.20 Q717.25 518.93 715.29 517.20 Q713.59 519.20 711.89 517.20 Q709.45 519.00 707.01 517.20 Q704.81 518.90 702.61 517.20 Q700.93 518.94 699.25 517.20 Q696.73 518.88 694.22 517.20 Q692.56 519.08 690.90 517.20 Q688.42 517.95 686.46 516.27 Q684.01 516.99 683.09 514.61 Q680.71 513.59 680.71 511.00 Q678.27 508.45 680.27 505.55 Q678.52 503.33 681.21 502.46 Q681.24 499.59 683.45 497.77 Q682.99 495.73 684.87 494.82 Q684.29 491.86 687.18 490.97 Q687.16 488.00 690.06 487.32 Q690.42 485.09 692.54 484.32 Q691.99 481.79 694.58 481.80 Q694.54 478.38 697.95 478.10 Q698.71 475.51 701.41 475.60 Q702.38 473.48 704.58 474.25 Q706.14 471.99 708.54 473.33Z"/></clipPath>
<path d="M708.54 473.33 Q711.30 472.53 713.64 474.18 Q716.42 472.95 717.41 475.83 Q720.35 475.87 721.09 478.72 Q723.14 478.94 723.16 481.00 Q725.80 481.55 725.80 484.24 Q728.47 485.28 729.00 488.10 Q731.94 488.42 731.47 491.34 Q733.91 491.98 733.33 494.43 Q735.51 496.07 735.44 498.80 Q738.20 499.53 737.06 502.15 Q738.84 504.18 738.23 506.82 Q739.57 508.48 737.96 509.90 Q738.12 512.34 736.18 513.84 Q734.86 516.92 731.56 516.37 Q730.27 518.00 728.36 517.17 Q726.36 518.98 724.33 517.20 Q721.77 518.44 719.20 517.20 Q717.25 518.93 715.29 517.20 Q713.59 519.20 711.89 517.20 Q709.45 519.00 707.01 517.20 Q704.81 518.90 702.61 517.20 Q700.93 518.94 699.25 517.20 Q696.73 518.88 694.22 517.20 Q692.56 519.08 690.90 517.20 Q688.42 517.95 686.46 516.27 Q684.01 516.99 683.09 514.61 Q680.71 513.59 680.71 511.00 Q678.27 508.45 680.27 505.55 Q678.52 503.33 681.21 502.46 Q681.24 499.59 683.45 497.77 Q682.99 495.73 684.87 494.82 Q684.29 491.86 687.18 490.97 Q687.16 488.00 690.06 487.32 Q690.42 485.09 692.54 484.32 Q691.99 481.79 694.58 481.80 Q694.54 478.38 697.95 478.10 Q698.71 475.51 701.41 475.60 Q702.38 473.48 704.58 474.25 Q706.14 471.99 708.54 473.33Z" fill="#a3d77d"/>
<path d="M677.30 520.20 L677.30 503.80 Q679.30 501.30 681.29 503.99 Q683.76 502.05 686.23 504.21 Q689.19 501.58 692.16 503.81 Q694.26 502.39 696.36 503.62 Q698.99 502.29 701.62 504.21 Q703.72 502.03 705.82 503.16 Q709.06 501.22 712.31 504.33 Q714.98 502.35 717.66 503.56 Q720.15 502.21 722.65 504.43 Q724.95 502.15 727.26 504.24 Q729.19 500.92 731.13 503.73 Q733.71 501.85 736.29 503.78 Q738.32 502.34 740.35 504.31 Q742.45 501.15 744.55 503.39 L744.55 520.20 Z" fill="#87c163" clip-path="url(#tc5)"/>
<path d="M701.10 531.50 C704.90 530.90 706.00 527.50 706.30 522.50 L706.40 518.00 C704.30 517.60 701.30 515.00 700.30 512.40 L701.70 511.30 C703.10 513.60 705.70 514.80 706.80 515.00 L706.90 512.40 L708.80 511.80 L712.10 512.20 L712.50 515.40 C714.50 515.40 716.00 515.00 717.20 513.70 L718.20 514.90 C717.00 516.80 714.10 517.80 712.90 518.80 L712.90 522.50 C713.20 527.50 714.30 530.90 718.10 531.50 Z" fill="#a67a6b"/>
<path d="M712.90 518.80 L712.90 522.50 C713.20 527.50 714.30 530.90 718.10 531.50 L711.80 531.50 C710.60 529.50 710.80 523.50 711.20 519.40 Z" fill="#8f6456" opacity=".5"/>
<path d="M706.90 512.40 L708.80 511.80 L712.10 512.20 L712.30 514.20 Z" fill="#8f6456" opacity=".55"/>
<rect x="707.60" y="479.87" width="9.40" height="8.70" rx="3.76" ry="3.76" fill="#e9505f"/><path d="M712.30 480.11 L712.50 478.46" stroke="#b7444d" stroke-width=".7"/><ellipse cx="710.04" cy="481.84" rx="1.03" ry="0.70" fill="#f7a9b0"/><rect x="694.30" y="487.33" width="10.60" height="9.80" rx="4.24" ry="4.24" fill="#e9505f"/><path d="M699.60 487.60 L699.80 485.74" stroke="#b7444d" stroke-width=".7"/><ellipse cx="697.06" cy="489.56" rx="1.17" ry="0.79" fill="#f7a9b0"/><rect x="717.60" y="489.74" width="8.80" height="8.14" rx="3.52" ry="3.52" fill="#e9505f"/><path d="M722.00 489.96 L722.20 488.42" stroke="#b7444d" stroke-width=".7"/><ellipse cx="719.89" cy="491.59" rx="0.97" ry="0.66" fill="#f7a9b0"/><rect x="706.20" y="498.90" width="10.00" height="9.25" rx="4.00" ry="4.00" fill="#e9505f"/><path d="M711.20 499.15 L711.40 497.40" stroke="#b7444d" stroke-width=".7"/><ellipse cx="708.80" cy="501.00" rx="1.10" ry="0.75" fill="#f7a9b0"/><rect x="688.20" y="501.27" width="9.40" height="8.70" rx="3.76" ry="3.76" fill="#e9505f"/><path d="M692.90 501.50 L693.10 499.86" stroke="#b7444d" stroke-width=".7"/><ellipse cx="690.64" cy="503.24" rx="1.03" ry="0.70" fill="#f7a9b0"/><rect x="722.60" y="501.43" width="10.60" height="9.80" rx="4.24" ry="4.24" fill="#e9505f"/><path d="M727.90 501.69 L728.10 499.84" stroke="#b7444d" stroke-width=".7"/><ellipse cx="725.36" cy="503.66" rx="1.17" ry="0.79" fill="#f7a9b0"/>
</g>
<g>
<clipPath id="apc"><path d="M774.40 496.2 C778.20 492.6 785.20 492.2 788.80 495.4 C792.80 499 792.60 506 791.80 512 C790.40 519 784.70 525.8 779.20 525.4 C775.80 525.2 774.60 524 772.60 524.2 C770.60 524 769.60 525.4 765.80 525.4 C760.20 525.6 755.40 518 754.60 511 C753.40 504 754.20 497.4 758.00 494.8 C761.80 492.4 769.80 493 774.40 496.2Z"/></clipPath>
<path d="M774.40 496.2 C778.20 492.6 785.20 492.2 788.80 495.4 C792.80 499 792.60 506 791.80 512 C790.40 519 784.70 525.8 779.20 525.4 C775.80 525.2 774.60 524 772.60 524.2 C770.60 524 769.60 525.4 765.80 525.4 C760.20 525.6 755.40 518 754.60 511 C753.40 504 754.20 497.4 758.00 494.8 C761.80 492.4 769.80 493 774.40 496.2Z" fill="#cf4a58"/>
<g clip-path="url(#apc)"><path d="M774.40 496.2 C778.20 492.6 785.20 492.2 788.80 495.4 C792.80 499 792.60 506 791.80 512 C790.40 519 784.70 525.8 779.20 525.4 C775.80 525.2 774.60 524 772.60 524.2 C770.60 524 769.60 525.4 765.80 525.4 C760.20 525.6 755.40 518 754.60 511 C753.40 504 754.20 497.4 758.00 494.8 C761.80 492.4 769.80 493 774.40 496.2Z" fill="#e05b67" transform="translate(-1.6,-1.4)"/></g>
<path d="M760.40 503.6 C760.80 499.6 762.60 497.4 765.00 496.6" fill="none" stroke="#f3a6ad" stroke-width="1.7" stroke-linecap="round"/>
<path d="M775.00 496.6 C775.00 494 774.60 491.4 774.00 489.2" fill="none" stroke="#9a6b58" stroke-width="1.7" stroke-linecap="round"/>
<path d="M775.80 491.2 C777.80 487.4 782.20 484 786.60 485.2 C788.20 485.6 789.60 486.6 790.20 487.8 C786.20 490.6 780.20 492 775.80 491.2Z" fill="#8cc163"/>
</g>
</svg></body></html>
